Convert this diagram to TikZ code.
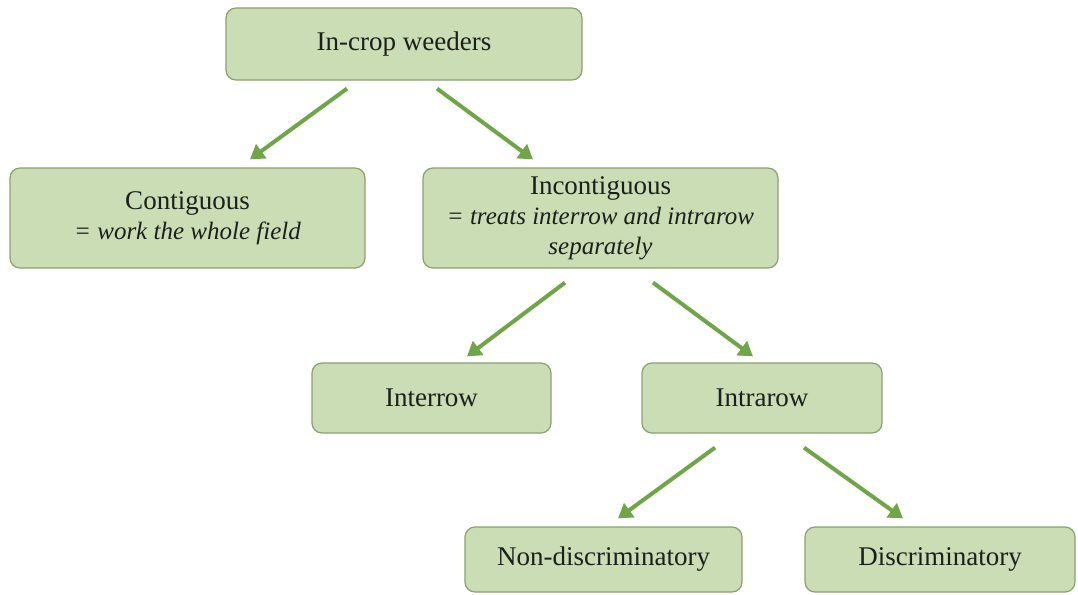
\documentclass[tikz,border=0pt]{standalone}
\usepackage{fontspec}
\setmainfont{Liberation Serif}
\usetikzlibrary{arrows.meta,calc}
\definecolor{boxfill}{RGB}{202,221,180}
\definecolor{boxline}{RGB}{138,162,110}
\definecolor{arrowgreen}{RGB}{112,165,72}
\definecolor{textcol}{RGB}{28,32,28}
\newcommand{\subtxt}{\itshape\fontsize{25}{26}\selectfont}
\begin{document}
\begin{tikzpicture}[x=1pt,y=-1pt,
  box/.style={draw=boxline, line width=1.2pt, fill=boxfill, rounded corners=10pt,
    inner sep=0pt, align=center, text=textcol, font=\fontsize{27}{30}\selectfont},
  link/.style={draw=arrowgreen, line width=4pt, -{Triangle[length=14pt,width=17pt]}}]
\useasboundingbox[fill=white] (0,0) rectangle (1078,594);

\node[box, minimum width=356pt, minimum height=72pt] (top) at (404,44) {In-crop weeders};
\node[box, minimum width=355pt, minimum height=100pt] (cont) at (187.5,218)
  {Contiguous\\\subtxt = work the whole field};
\node[box, minimum width=355pt, minimum height=100pt] (incont) at (600.5,218)
  {Incontiguous\\\subtxt = treats interrow and intrarow\\\subtxt separately};
\node[box, minimum width=239pt, minimum height=70pt] (inter) at (431.5,398) {Interrow};
\node[box, minimum width=240pt, minimum height=70pt] (intra) at (762,398) {Intrarow};
\node[box, minimum width=277pt, minimum height=65pt] (nond) at (603.5,559.5) {Non-discriminatory};
\node[box, minimum width=270pt, minimum height=65pt] (disc) at (940,559.5) {Discriminatory};

\draw[link] ($(top.south)+(-57,8)$) -- ($(cont.north)+(62.5,-8)$);
\draw[link] ($(top.south)+(33,8)$) -- ($(incont.north)+(-67.5,-8)$);
\draw[link] ($(incont.south)+(-35.5,14)$) -- ($(inter.north)+(35.5,-6)$);
\draw[link] ($(incont.south)+(52.5,14)$) -- ($(intra.north)+(-9,-6)$);
\draw[link] ($(intra.south)+(-47,14)$) -- ($(nond.north)+(14.5,-8)$);
\draw[link] ($(intra.south)+(42,14)$) -- ($(disc.north)+(-37,-8)$);
\end{tikzpicture}
\end{document}
